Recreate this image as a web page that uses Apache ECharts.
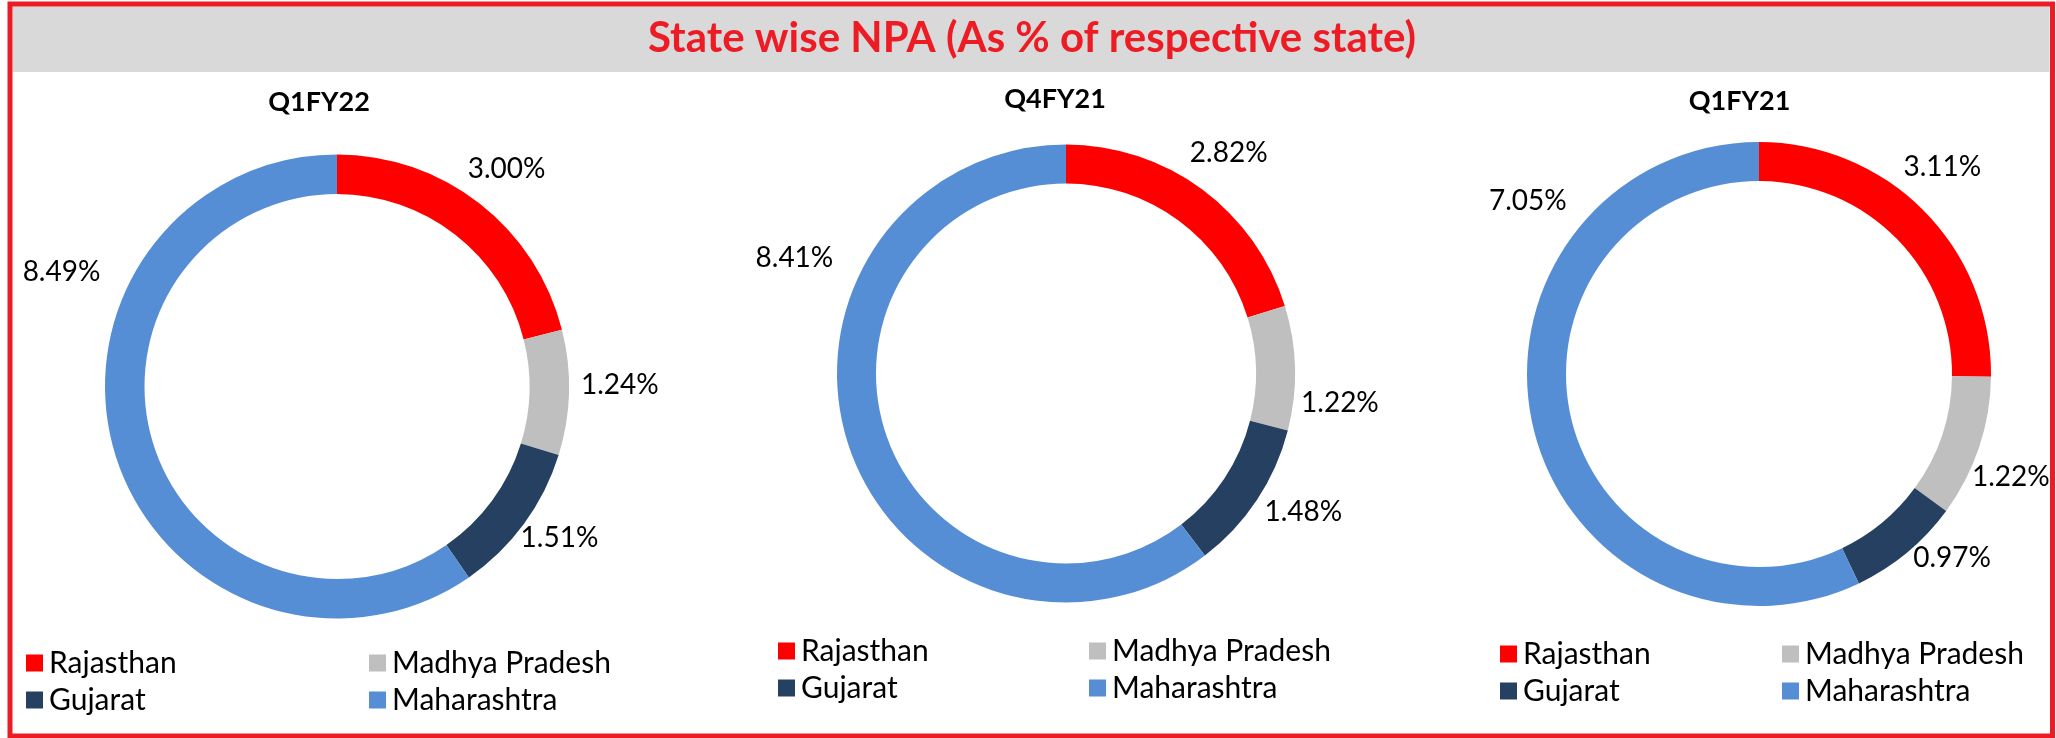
<!DOCTYPE html>
<html>
<head>
<meta charset="utf-8">
<script src="https://cdn.jsdelivr.net/npm/echarts@6/dist/echarts.min.js"></script>
<style>
html,body{margin:0;padding:0;background:#ffffff;}
#chart{width:2056px;height:738px;}
</style>
</head>
<body>
<div id="chart"></div>
<script>
// ---------------- data ----------------
const states = ['Rajasthan', 'Madhya Pradesh', 'Gujarat', 'Maharashtra'];
const periods = ['Q1FY22', 'Q4FY21', 'Q1FY21'];
const npaQ1FY22 = [3.00, 1.24, 1.51, 8.49];
const npaQ4FY21 = [2.82, 1.22, 1.48, 8.41];
const npaQ1FY21 = [3.11, 1.22, 0.97, 7.05];
const mainTitle = 'State wise NPA (As % of respective state)';

// ---------------- styling / layout ----------------
const stateColors = ['#FF0000', '#BFBFBF', '#254061', '#558ED5'];
const red = '#ED1C24';
const LEGEND_FONT = 30;
const panels = [
  { values: npaQ1FY22, center: [337, 386.5], radius: [192.5, 232], labelRing: [246, 300],
    titleAt: [319, 102.5], legendAt: [26, 663, 369],
    nudge: [[0, 0], [7, -9], [0, -12], [-12, -197]] },
  { values: npaQ4FY21, center: [1066, 373.5], radius: [190, 229], labelRing: [244, 298],
    titleAt: [1055, 99], legendAt: [778, 651, 1089],
    nudge: [[0, 0], [0, 36], [9, -13], [-12, -203]] },
  { values: npaQ1FY21, center: [1759, 374], radius: [193, 232], labelRing: [246, 300],
    titleAt: [1739.5, 101.3], legendAt: [1500, 654, 1782],
    nudge: [[-13, -13], [-10, 16], [17, -29], [38, -234]] }
];

const FONT = 'Lato, "Open Sans", sans-serif';

const series = [];
const titles = [{
  text: mainTitle, left: 1032, top: 15, textAlign: 'center', padding: 0,
  textStyle: { fontFamily: FONT, fontWeight: 'bold', fontSize: 42, color: red, lineHeight: 46 }
}];
const legends = [];

panels.forEach(function (p, k) {
  const data = states.map(function (s, i) {
    return { name: s, value: p.values[i], itemStyle: { color: stateColors[i] } };
  });
  series.push({
    type: 'pie', name: periods[k], center: p.center, radius: p.radius,
    startAngle: 90, clockwise: true, silent: true,
    label: { show: false }, labelLine: { show: false },
    emphasis: { disabled: true },
    itemStyle: { borderWidth: 0 },
    data: data
  });
});

panels.forEach(function (p, k) {
  const data = states.map(function (s, i) {
    return { name: s, value: p.values[i] };
  });
  series.push({
    type: 'pie', name: periods[k] + ' labels', center: p.center, radius: p.labelRing,
    startAngle: 90, clockwise: true, silent: true, avoidLabelOverlap: false,
    itemStyle: { color: 'rgba(0,0,0,0)', borderWidth: 0 },
    emphasis: { disabled: true },
    labelLine: { show: false },
    label: {
      show: true, position: 'inside', color: '#000000',
      fontFamily: FONT, fontSize: 28,
      formatter: function (d) { return d.value.toFixed(2) + '%'; }
    },
    labelLayout: function (params) {
      const n = p.nudge[params.dataIndex];
      return { dx: n[0], dy: n[1] };
    },
    data: data
  });

  titles.push({
    text: periods[k], left: p.titleAt[0], top: p.titleAt[1] - 14, textAlign: 'center', padding: 0,
    textStyle: { fontFamily: FONT, fontWeight: 'bold', fontSize: 27, color: '#000000', lineHeight: 28 }
  });

  const legendBase = {
    orient: 'vertical', top: p.legendAt[1] - LEGEND_FONT / 2, padding: 0,
    itemWidth: 17, itemHeight: 17, itemGap: 37 - LEGEND_FONT, icon: 'rect',
    selectedMode: false,
    textStyle: { fontFamily: FONT, fontSize: LEGEND_FONT, color: '#000000', padding: [0, 0, 0, 1] }
  };
  legends.push(Object.assign({}, legendBase, { left: p.legendAt[0], data: [states[0], states[2]] }));
  legends.push(Object.assign({}, legendBase, { left: p.legendAt[2], data: [states[1], states[3]] }));
});

const chart = echarts.init(document.getElementById('chart'), null, { renderer: 'canvas' });
chart.setOption({
  backgroundColor: '#ffffff',
  animation: false,
  title: titles,
  legend: legends,
  series: series,
  graphic: [
    { type: 'rect', z: 0, shape: { x: 12.5, y: 6.5, width: 2037, height: 65.5 },
      style: { fill: '#D9D9D9' }, silent: true },
    { type: 'rect', z: 100, shape: { x: 10, y: 4, width: 2042.5, height: 732 },
      style: { fill: null, stroke: red, lineWidth: 5 }, silent: true }
  ]
});
</script>
</body>
</html>
